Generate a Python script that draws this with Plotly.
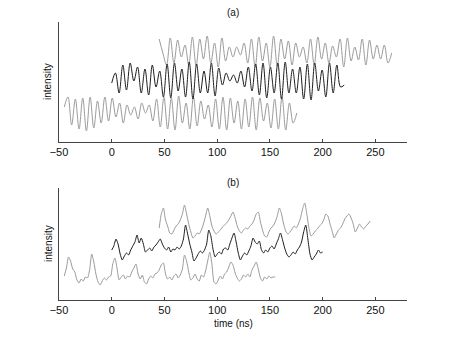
import plotly.graph_objects as go

# ---------- panel (a): fast oscillating traces (sampled every 3.5 ns) ----------
a_step = 3.5
a1_start, a2_start, a3_start = -45.0, 0.0, 45.0
a1_v = [36,46,18,44,14,45,12,46,15,42, 20,46,22,45,26,40,20,38,28,36,
        24,40,30,38,22,44,16,46,14,45, 13,47,20,40,14,46,17,42,24,38,
        16,44,14,46,13,45,20,42,14,44, 16,46,13,45,22,40,15,44,14,46,
        13,40,20,30]
a2_v = [60,70,50,78,53,80,62,76,50,74, 48,78,56,72,46,79,45,80,52,74,
        46,81,44,79,50,72,50,80,47,75, 58,70,62,68,60,72,56,76,52,79,
        48,80,45,76,50,80,44,81,50,74, 50,76,44,79,43,80,52,73,46,80,
        50,78,56,58]
a3_v = [104,90,78,105,80,103,86,98,78,106, 77,104,84,107,80,100,76,105,82,96,
        86,96,88,100,80,104,76,106,82,100, 76,107,77,104,84,102,78,100,86,96,
        80,104,78,106,84,100,80,97,86,104, 76,105,82,96,83,104,78,103,84,98,
        84,98,80,90]

# ---------- panel (b): slower traces with spikes (sampled every 2 ns) ----------
b_step = 2.0
b1_start, b2_start, b3_start = -45.0, 0.0, 45.0
b1_v = [18,26,37,33,25,22,14,11,15,13, 17,16,24,40,32,20,12,9,13,16,
        14,17,18,30,36,26,14,17,19,15, 18,17,22,26,30,20,15,19,12,10,
        15,18,16,20,21,24,29,31,20,15, 17,14,18,20,16,19,25,39,33,22,
        14,16,20,15,13,19,17,23,33,42, 30,12,10,14,18,15,20,22,27,32,
        29,21,16,13,15,19,17,20,17,24, 28,32,25,16,13,17,15,18,16,17,
        17]
b2_v = [44,48,55,50,40,34,38,41,39,44, 48,52,59,51,56,50,42,44,46,43,
        47,49,52,55,50,46,44,47,42,45, 44,47,45,48,55,69,60,50,42,33,
        36,40,43,41,44,50,64,58,45,37, 40,42,40,45,46,44,50,56,61,52,
        41,34,38,41,39,43,48,56,52,50, 53,44,41,44,42,46,48,45,50,55,
        61,54,46,40,37,39,42,40,44,47, 52,62,69,55,40,34,37,40,44,41,
        42]
b3_v = [66,80,86,74,68,61,60,64,68,70, 74,80,89,80,70,62,56,58,61,60,
        64,70,78,86,78,68,63,60,62,64, 67,69,71,74,78,82,76,68,63,61,
        64,66,65,68,70,74,80,82,72,64, 58,57,62,66,68,72,78,86,80,70,
        63,60,62,65,68,66,70,76,85,91, 80,66,58,60,63,65,68,70,74,80,
        78,70,63,56,60,64,66,70,75,78, 80,76,70,62,66,70,67,65,68,70,
        73]

GRAY = "#9b9b9b"
BLACK = "#1e1e1e"

def grid(start, step, n):
    return [start + step * i for i in range(n)]

fig = go.Figure()
for start, vals, col in [(a1_start, a1_v, GRAY), (a3_start, a3_v, GRAY), (a2_start, a2_v, BLACK)]:
    fig.add_trace(go.Scatter(x=grid(start, a_step, len(vals)), y=vals, mode="lines",
                             line=dict(color=col, width=1, shape="spline", smoothing=1.0),
                             xaxis="x", yaxis="y", showlegend=False, hoverinfo="skip"))
for start, vals, col in [(b1_start, b1_v, GRAY), (b3_start, b3_v, GRAY), (b2_start, b2_v, BLACK)]:
    fig.add_trace(go.Scatter(x=grid(start, b_step, len(vals)), y=vals, mode="lines",
                             line=dict(color=col, width=1, shape="spline", smoothing=0.6),
                             xaxis="x2", yaxis="y2", showlegend=False, hoverinfo="skip"))

xcommon = dict(range=[-50, 280], tickvals=[-50, 0, 50, 100, 150, 200, 250],
               ticks="inside", ticklen=3, tickcolor="#444", showline=True,
               linecolor="#444", linewidth=1, showgrid=False, zeroline=False,
               tickfont=dict(family="Liberation Sans, Arial", size=11, color="#111"))
ycommon = dict(showticklabels=False, ticks="", showline=True, linecolor="#444",
               linewidth=1, showgrid=False, zeroline=False)

H = 339.0
PW = 348.0
fig.update_layout(
    width=450, height=339,
    margin=dict(l=51, r=51, t=0, b=0),
    paper_bgcolor="white", plot_bgcolor="white",
    xaxis=dict(domain=[0, 1], anchor="y", **xcommon),
    yaxis=dict(domain=[1 - 134 / H, 1 - 14 / H], range=[1, 121], anchor="x", **ycommon),
    xaxis2=dict(domain=[0, 1], anchor="y2", **xcommon),
    yaxis2=dict(domain=[1 - 292 / H, 1 - 180 / H], range=[-6, 106], anchor="x2", **ycommon),
    font=dict(family="Liberation Sans, Arial", size=10, color="#111"),
)

ann_font = dict(family="Liberation Sans, Arial", size=10, color="#111")
fig.add_annotation(text="(a)", xref="paper", yref="paper", x=0.5, y=1 - 5 / H,
                   showarrow=False, font=ann_font, yanchor="middle")
fig.add_annotation(text="(b)", xref="paper", yref="paper", x=0.5, y=1 - 174 / H,
                   showarrow=False, font=ann_font, yanchor="middle")
fig.add_annotation(text="intensity", xref="paper", yref="paper", x=-11 / PW, y=1 - 74 / H,
                   showarrow=False, font=ann_font, textangle=-90, xanchor="center", yanchor="middle")
fig.add_annotation(text="intensity", xref="paper", yref="paper", x=-11 / PW, y=1 - 236 / H,
                   showarrow=False, font=ann_font, textangle=-90, xanchor="center", yanchor="middle")
fig.add_annotation(text="time (ns)", xref="paper", yref="paper", x=0.5, y=1 - 315 / H,
                   showarrow=False, font=ann_font, yanchor="middle")

fig.write_html("out.html")
